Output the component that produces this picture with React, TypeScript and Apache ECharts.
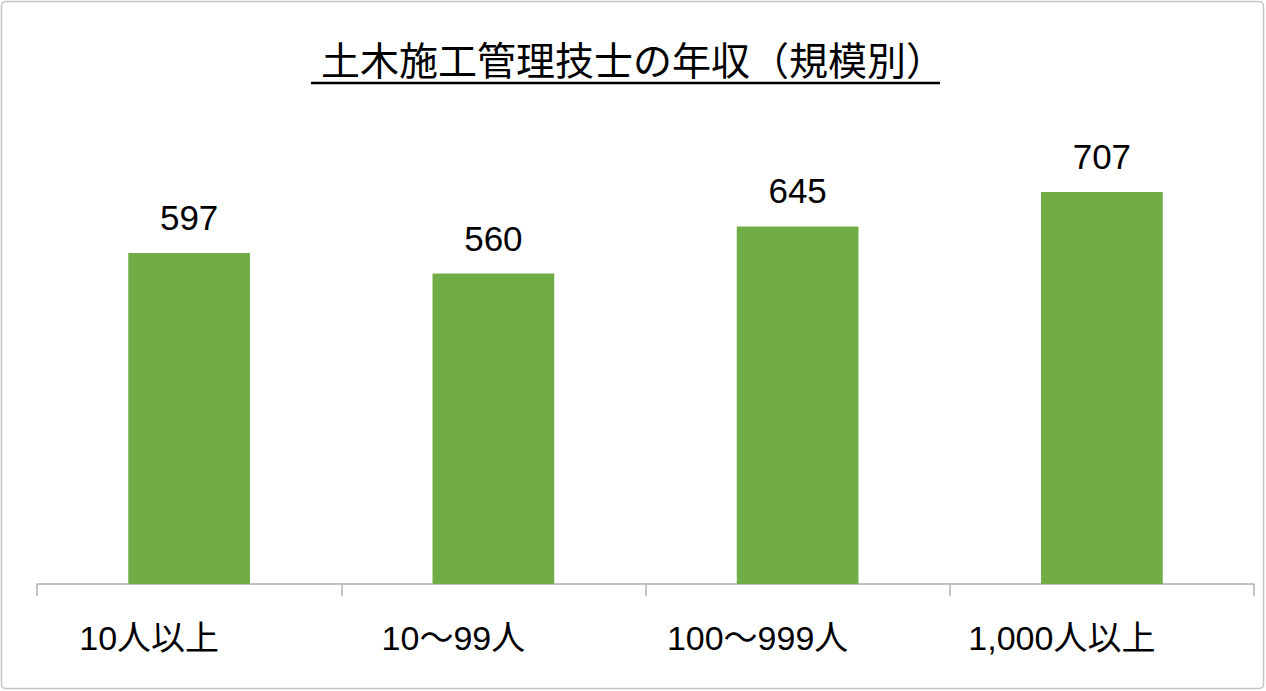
import React, { useEffect, useRef } from 'react';
import * as echarts from 'echarts';

const categories = ['10人以上', '10～99人', '100～999人', '1,000人以上'];
const salaries = [597, 560, 645, 707];
const chartTitle = '土木施工管理技士の年収（規模別）';

export default function App() {
    const chartRef = useRef<HTMLDivElement>(null);

    useEffect(() => {
        const chart = echarts.init(chartRef.current!, null, { renderer: 'svg' });

        chart.setOption({
            animation: false,
            textStyle: {
                fontFamily: '"Liberation Sans", "Noto Sans CJK JP", sans-serif',
            },
            title: {
                text: chartTitle,
                left: 'center',
                top: 33,
                textStyle: {
                    color: '#000',
                    fontSize: 39,
                    fontWeight: 'normal',
                    fontFamily: '"Noto Sans CJK JP", sans-serif',
                },
            },
            graphic: [
                {
                    type: 'rect',
                    shape: { x: 1.5, y: 1.5, width: 1262, height: 687, r: 4 },
                    style: { fill: 'none', stroke: '#c4c4c4', lineWidth: 1.5 },
                    silent: true,
                },
                {
                    type: 'line',
                    shape: { x1: 311, y1: 83, x2: 940, y2: 83 },
                    style: { stroke: '#000', lineWidth: 2.5 },
                    silent: true,
                },
            ],
            grid: {
                left: 37,
                right: 12,
                top: 140.5,
                bottom: 107,
            },
            xAxis: {
                type: 'category',
                data: categories,
                axisLine: { lineStyle: { color: '#b0b0b0', width: 1.5 } },
                axisTick: { show: true, length: 12, lineStyle: { color: '#b0b0b0', width: 1.5 } },
                axisLabel: {
                    color: '#000',
                    fontSize: 34,
                    margin: 37,
                    padding: [0, 80, 0, 0],
                },
            },
            yAxis: {
                type: 'value',
                min: 0,
                max: 800,
                show: false,
                splitLine: { show: false },
            },
            series: [
                {
                    type: 'bar',
                    data: salaries,
                    barWidth: '40%',
                    itemStyle: { color: '#70ad47' },
                    label: {
                        show: true,
                        position: 'top',
                        distance: 18,
                        color: '#000',
                        fontSize: 35,
                    },
                    silent: true,
                },
            ],
        });

        return () => {
            chart.dispose();
        };
    }, []);

    return (
        <div
            ref={chartRef}
            style={{ position: 'absolute', left: 0, top: 0, width: 1266, height: 691, background: '#fff' }}
        />
    );
}
